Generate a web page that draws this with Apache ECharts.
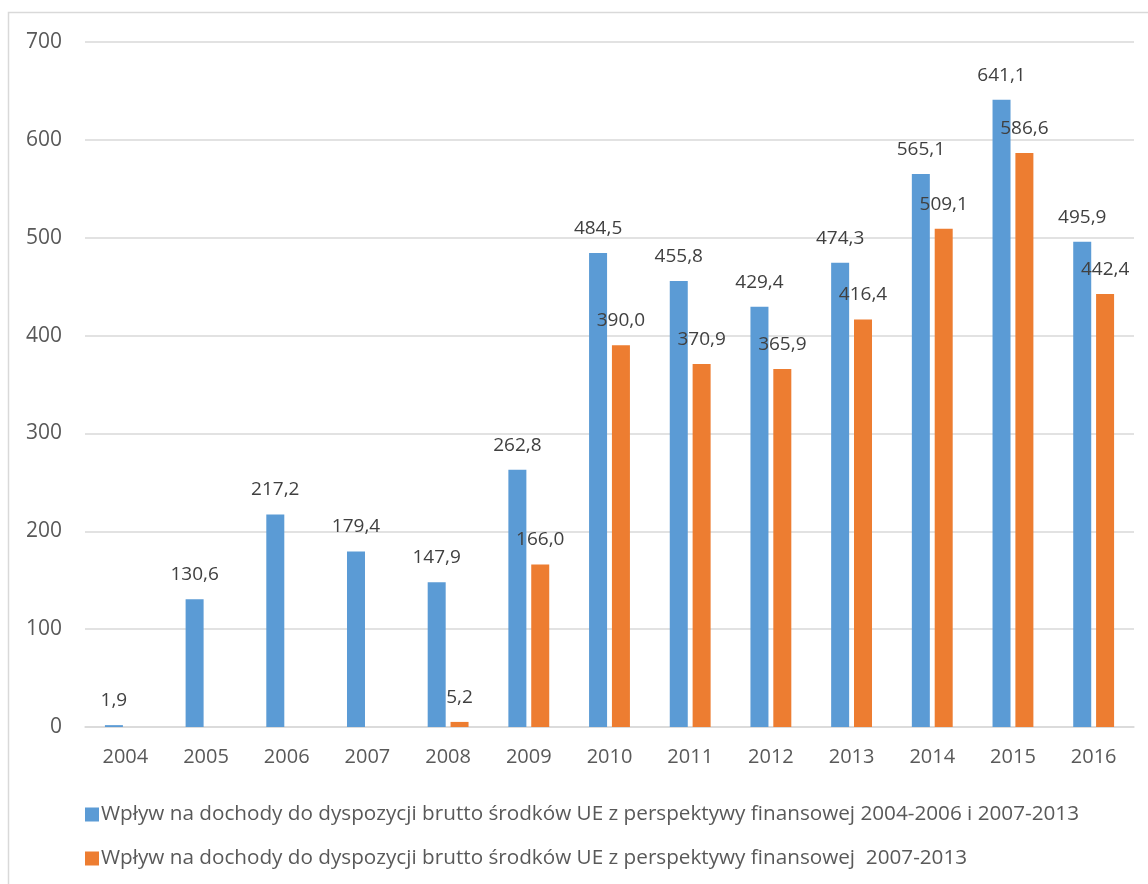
<!DOCTYPE html>
<html>
<head>
<meta charset="utf-8">
<script src="https://cdn.jsdelivr.net/npm/echarts@6/dist/echarts.min.js"></script>
<style>
  html, body { margin: 0; padding: 0; background: #fff; }
  #chart { width: 1148px; height: 884px; }
</style>
</head>
<body>
<div id="chart"></div>
<script>
// dane
const years = ["2004", "2005", "2006", "2007", "2008", "2009", "2010", "2011", "2012", "2013", "2014", "2015", "2016"];
const wplyw0413 = [1.9, 130.6, 217.2, 179.4, 147.9, 262.8, 484.5, 455.8, 429.4, 474.3, 565.1, 641.1, 495.9];
const wplyw0713 = [null, null, null, null, 5.2, 166.0, 390.0, 370.9, 365.9, 416.4, 509.1, 586.6, 442.4];
const seriesNames = [
  "Wpływ na dochody do dyspozycji brutto środków UE z perspektywy finansowej 2004-2006 i 2007-2013",
  "Wpływ na dochody do dyspozycji brutto środków UE z perspektywy finansowej  2007-2013"
];

const font = "'Open Sans', sans-serif";

// etykiety z przecinkiem
const fmt = (p) => p.value == null ? "" : Number(p.value).toFixed(1).replace(".", ",");

const labelStyle = {
  show: true,
  position: "top",
  distance: 15,
  formatter: fmt,
  color: "#404040",
  fontSize: 19,
  fontFamily: font,
};

const chart = echarts.init(document.getElementById("chart"));

chart.setOption({
  animation: false,
  color: ["#5B9BD5", "#ED7D31"],
  graphic: [
    {
      type: "rect",
      shape: { x: 8.5, y: 12.5, width: 1300, height: 1000 },
      style: { fill: "none", stroke: "#d9d9d9", lineWidth: 1.5 },
      silent: true,
    },
  ],
  grid: {
    left: 85,
    right: 14,
    top: 42,
    bottom: 157,
  },
  legend: {
    orient: "vertical",
    left: 80,
    top: 799,
    itemWidth: 14,
    itemHeight: 14,
    itemGap: 23,
    itemStyle: { borderWidth: 0 },
    icon: "rect",
    textStyle: {
      color: "#595959",
      fontSize: 20.7,
      fontFamily: font,
      padding: [0, 0, 0, -3],
    },
    data: seriesNames,
  },
  xAxis: {
    type: "category",
    data: years,
    axisLine: { lineStyle: { color: "#d9d9d9", width: 1.5 } },
    axisTick: { show: false },
    axisLabel: {
      color: "#595959",
      fontSize: 20,
      fontFamily: font,
      margin: 20,
    },
  },
  yAxis: {
    type: "value",
    min: 0,
    max: 700,
    interval: 100,
    axisLine: { show: false },
    axisTick: { show: false },
    splitLine: { lineStyle: { color: "#d9d9d9", width: 1.5 } },
    axisLabel: {
      color: "#595959",
      fontSize: 21,
      fontFamily: font,
      margin: 23,
    },
  },
  series: [
    {
      name: seriesNames[0],
      type: "bar",
      data: wplyw0413,
      barWidth: 18,
      barGap: "27%",
      label: labelStyle,
    },
    {
      name: seriesNames[1],
      type: "bar",
      data: wplyw0713,
      barWidth: 18,
      label: labelStyle,
    },
  ],
});
</script>
</body>
</html>
